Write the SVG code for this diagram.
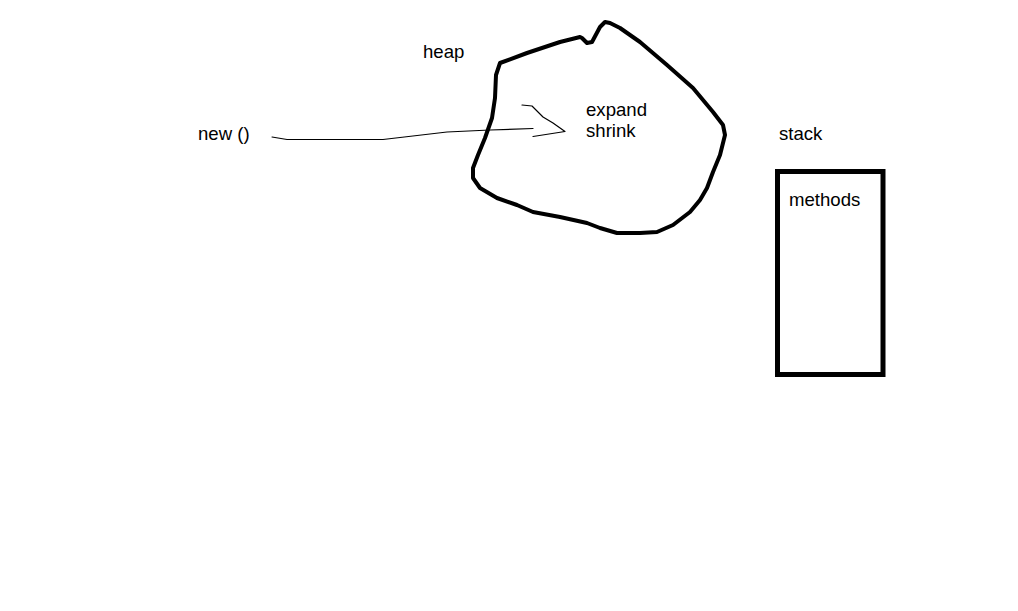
<svg xmlns="http://www.w3.org/2000/svg" width="1018" height="611" viewBox="0 0 1018 611">
<style>
text{font-family:"Liberation Sans",Arial,sans-serif;font-size:18.6px;fill:#000}
.thick{fill:none;stroke:#000;stroke-width:4;stroke-linecap:round;stroke-linejoin:round}
.thin{fill:none;stroke:#000;stroke-width:1.2;stroke-linecap:round;stroke-linejoin:round}
</style>
<rect width="1018" height="611" fill="#fff"/>
<g id="heap">
<path class="thick" d="M500,63 L527,53 L560,42 L580,37 L582,38 L587,43 L592,42 L600,27 L605,22 L610,23 L620,28 L640,42 L667,65 L693,88 L713,112 L723,125 L725,135 L720,155 L713,172 L707,188 L700,200 L690,212 L673,225 L657,232 L640,233 L617,233 L600,228 L587,223 L560,217 L533,212 L517,205 L497,198 L480,188 L473,178 L473,168 L478,155 L485,138 L492,118 L495,98 L496,75 Z"/>
<text x="423" y="58">heap</text>
<text x="586" y="116">expand</text>
<text x="586" y="137">shrink</text>
</g>
<g id="new">
<text x="198" y="140">new ()</text>
</g>
<g id="stack">
<text x="779" y="140">stack</text>
<rect x="777.5" y="171.5" width="105.5" height="203" fill="none" stroke="#000" stroke-width="5"/>
<text x="789" y="206">methods</text>
</g>
<g id="connectors">
<path class="thin" d="M272,137 L287,139.5 L383,139.5 L447,132 L490,130 L533,128.5"/>
<path class="thin" d="M522,105 L532,106 L543,117 L553,123 L565,131.5 L533,136.5"/>
</g>
</svg>
